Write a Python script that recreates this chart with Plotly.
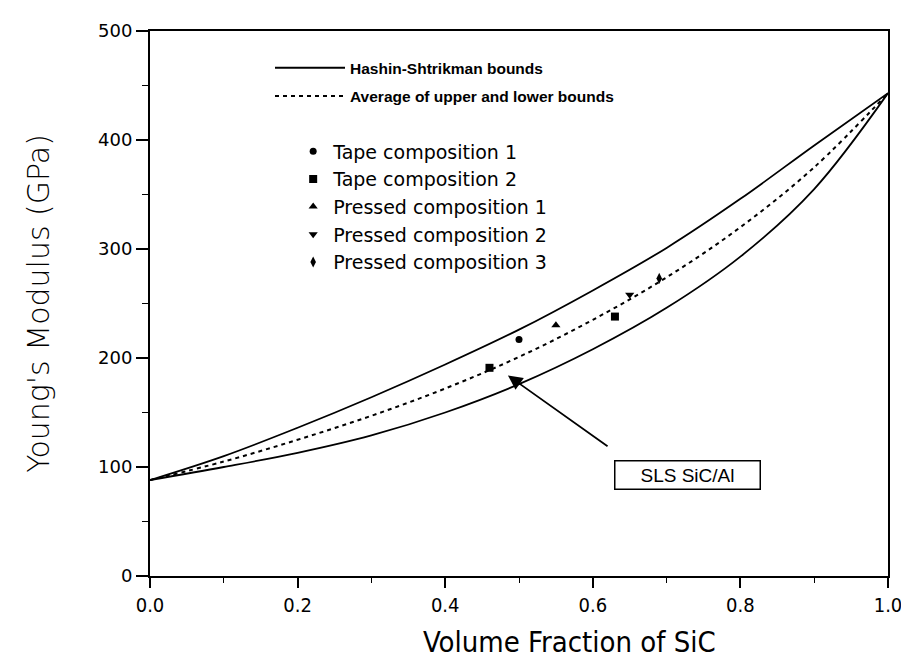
import plotly.graph_objects as go

# ---- data ----
vf = [0.0, 0.1, 0.2, 0.3, 0.4, 0.5, 0.6, 0.7, 0.8, 0.9, 1.0]
hs_upper = [88, 110, 136, 164, 194, 226, 262, 301, 346, 395, 443]
hs_lower = [88, 100, 113, 129, 150, 176, 208, 246, 293, 355, 443]
hs_avg = [88, 105, 125, 147, 172, 201, 235, 274, 320, 375, 443]

tape1_x = [0.50]
tape1_y = [217]
tape2_x = [0.46, 0.63]
tape2_y = [191, 238]
pressed1_x = [0.55]
pressed1_y = [230]
pressed2_x = [0.65]
pressed2_y = [258]
pressed3_x = [0.69]
pressed3_y = [273]

x_ticks = [0.0, 0.2, 0.4, 0.6, 0.8, 1.0]
x_ticklabels = ["0.0", "0.2", "0.4", "0.6", "0.8", "1.0"]
y_ticks = [0, 100, 200, 300, 400, 500]

fig = go.Figure()

fig.add_trace(go.Scatter(x=vf, y=hs_upper, mode="lines", name="Hashin-Shtrikman bounds",
                         line=dict(color="black", width=1.8, shape="spline"),
                         legend="legend", legendgroup="a"))
fig.add_trace(go.Scatter(x=vf, y=hs_lower, mode="lines", name="Hashin-Shtrikman bounds",
                         line=dict(color="black", width=1.8, shape="spline"),
                         showlegend=False, legendgroup="a"))
fig.add_trace(go.Scatter(x=vf, y=hs_avg, mode="lines", name="Average of upper and lower bounds",
                         line=dict(color="black", width=2, dash="4px,4px", shape="spline"),
                         legend="legend", legendgroup="b"))

mk = dict(color="black", line=dict(width=0))
fig.add_trace(go.Scatter(x=tape1_x, y=tape1_y, mode="markers", name="Tape composition 1",
                         marker=dict(symbol="circle", size=7, **mk), legend="legend2", legendgroup="c"))
fig.add_trace(go.Scatter(x=tape2_x, y=tape2_y, mode="markers", name="Tape composition 2",
                         marker=dict(symbol="square", size=8, **mk), legend="legend2", legendgroup="d"))
fig.add_trace(go.Scatter(x=pressed1_x, y=pressed1_y, mode="markers", name="Pressed composition 1",
                         marker=dict(symbol="triangle-up", size=8, **mk), legend="legend2", legendgroup="e"))
fig.add_trace(go.Scatter(x=pressed2_x, y=pressed2_y, mode="markers", name="Pressed composition 2",
                         marker=dict(symbol="triangle-down", size=8, **mk), legend="legend2", legendgroup="f"))
fig.add_trace(go.Scatter(x=pressed3_x, y=pressed3_y, mode="markers", name="Pressed composition 3",
                         marker=dict(symbol="diamond-tall", size=8, **mk), legend="legend2", legendgroup="g"))

# annotation arrow and box
fig.add_annotation(x=0.485, y=184, ax=0.622, ay=118, xref="x", yref="y", axref="x", ayref="y",
                   text="", showarrow=True, arrowhead=2, arrowsize=1.6, arrowwidth=1.8,
                   arrowcolor="black")
fig.add_annotation(x=0.728, y=93, xref="x", yref="y", text="SLS SiC/Al", showarrow=False,
                   font=dict(family="Liberation Sans, Arial, sans-serif", size=19, color="black"),
                   bordercolor="black", borderwidth=1.5, borderpad=3, width=138, bgcolor="white")

# x-axis title (sits right of centre in the reference)
fig.add_annotation(x=0.569, y=-0.122, xref="paper", yref="paper", text="Volume Fraction of SiC",
                   showarrow=False, xanchor="center", yanchor="middle",
                   font=dict(family="DejaVu Sans Condensed, sans-serif", size=29, color="black"))

fig.update_layout(
    width=909, height=664,
    margin=dict(l=142, r=29, t=18, b=96),
    paper_bgcolor="white", plot_bgcolor="white",
    font=dict(family="Liberation Sans, Arial, sans-serif", color="black"),
    showlegend=True,
    legend=dict(x=(262 - 142) / 738, y=0.963, xanchor="left", yanchor="top", bgcolor="rgba(0,0,0,0)",
                font=dict(size=15.5, family="Liberation Sans, Arial, sans-serif", weight="bold"),
                traceorder="grouped", tracegroupgap=5, itemwidth=70),
    legend2=dict(x=0.194, y=0.814, xanchor="left", yanchor="top", bgcolor="rgba(0,0,0,0)",
                 font=dict(size=19, family="DejaVu Sans, sans-serif"),
                 traceorder="grouped", tracegroupgap=0),
)

fig.update_xaxes(range=[0, 1], tickvals=x_ticks, ticktext=x_ticklabels,
                 showgrid=False, zeroline=False, showline=True, linecolor="black", linewidth=2,
                 mirror=True, ticks="outside", ticklen=10, tickwidth=1.5, tickcolor="black",
                 minor=dict(dtick=0.1, ticks="outside", ticklen=5, tickwidth=1.2, tickcolor="black"),
                 tickfont=dict(family="DejaVu Sans Condensed, sans-serif", size=20))
fig.update_yaxes(range=[0, 500], tickvals=y_ticks,
                 showgrid=False, zeroline=False, showline=True, linecolor="black", linewidth=2,
                 mirror=True, ticks="outside", ticklen=12, tickwidth=1.5, tickcolor="black",
                 minor=dict(dtick=50, ticks="outside", ticklen=6, tickwidth=1.2, tickcolor="black"),
                 tickfont=dict(family="DejaVu Sans, sans-serif", size=18),
                 title=dict(text="Young's Modulus (GPa)", standoff=40,
                            font=dict(family="DejaVu Sans, sans-serif", size=30, weight=200)))

fig.write_html("out.html")
